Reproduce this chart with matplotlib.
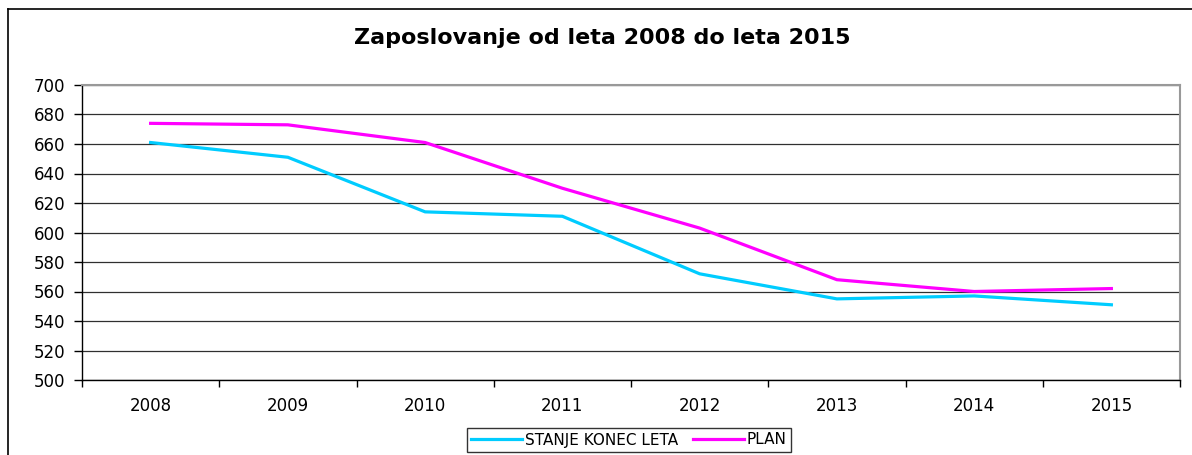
import matplotlib
matplotlib.use("Agg")
import matplotlib.pyplot as plt
from matplotlib.lines import Line2D

years = ["2008", "2009", "2010", "2011", "2012", "2013", "2014", "2015"]
stanje = [661, 651, 614, 611, 572, 555, 557, 551]
plan = [674, 673, 661, 630, 603, 568, 560, 562]
yticks = [500, 520, 540, 560, 580, 600, 620, 640, 660, 680, 700]

plt.rcParams['font.family'] = ['DejaVu Sans']

W, H = 1192, 455
fig = plt.figure(figsize=(W / 100, H / 100), dpi=100)
fig.patch.set_facecolor("white")

# axes rect in pixels
left, right, top, bottom = 82, 1180, 85, 380
ax = fig.add_axes([left / W, 1 - bottom / H, (right - left) / W, (bottom - top) / H])

x = list(range(len(years)))
ax.plot(x, stanje, color="#00CCFF", lw=2.3, label="STANJE KONEC LETA", solid_joinstyle="miter")
ax.plot(x, plan, color="#FF00FF", lw=2.3, label="PLAN", solid_joinstyle="miter")

ax.set_xlim(-0.5, len(years) - 0.5)
ax.set_ylim(500, 700)
ax.set_yticks(yticks)
ax.set_yticklabels([str(v) for v in yticks], fontsize=12)
ax.set_xticks(x)
ax.set_xticklabels(years, fontsize=12)
ax.set_xticks([i - 0.5 for i in range(len(years) + 1)], minor=True)
ax.tick_params(axis="x", which="major", length=0, pad=12)
ax.tick_params(axis="x", which="minor", length=5, width=1, color="black")
ax.tick_params(axis="y", length=6, width=1, color="black", pad=6)

ax.yaxis.grid(True, color="#303030", lw=0.9)
ax.set_axisbelow(True)
for s in ["top", "right"]:
    ax.spines[s].set_color("#999999")
    ax.spines[s].set_linewidth(1.5)
for s in ["left", "bottom"]:
    ax.spines[s].set_color("black")
    ax.spines[s].set_linewidth(1.0)

fig.text(602 / W, 1 - 38 / H, "Zaposlovanje od leta 2008 do leta 2015",
         ha="center", va="center", fontsize=16, fontweight="bold")

leg = fig.legend(loc="center", bbox_to_anchor=(629 / W, 1 - 440 / H), ncol=2,
                 fontsize=11, frameon=True, fancybox=False, handlelength=3.3,
                 handletextpad=0.2, columnspacing=1.0, borderpad=0.3,
                 borderaxespad=0)
leg.get_frame().set_edgecolor("black")
leg.get_frame().set_linewidth(1.0)

# outer chart frame (top and left edges visible)
fig.add_artist(Line2D([8 / W, 8 / W], [0, 1 - 9 / H], transform=fig.transFigure,
                      color="black", lw=1.2))
fig.add_artist(Line2D([8 / W, 1], [1 - 9 / H, 1 - 9 / H], transform=fig.transFigure,
                      color="black", lw=1.2))

fig.savefig("out.png", dpi=100, facecolor="white")
